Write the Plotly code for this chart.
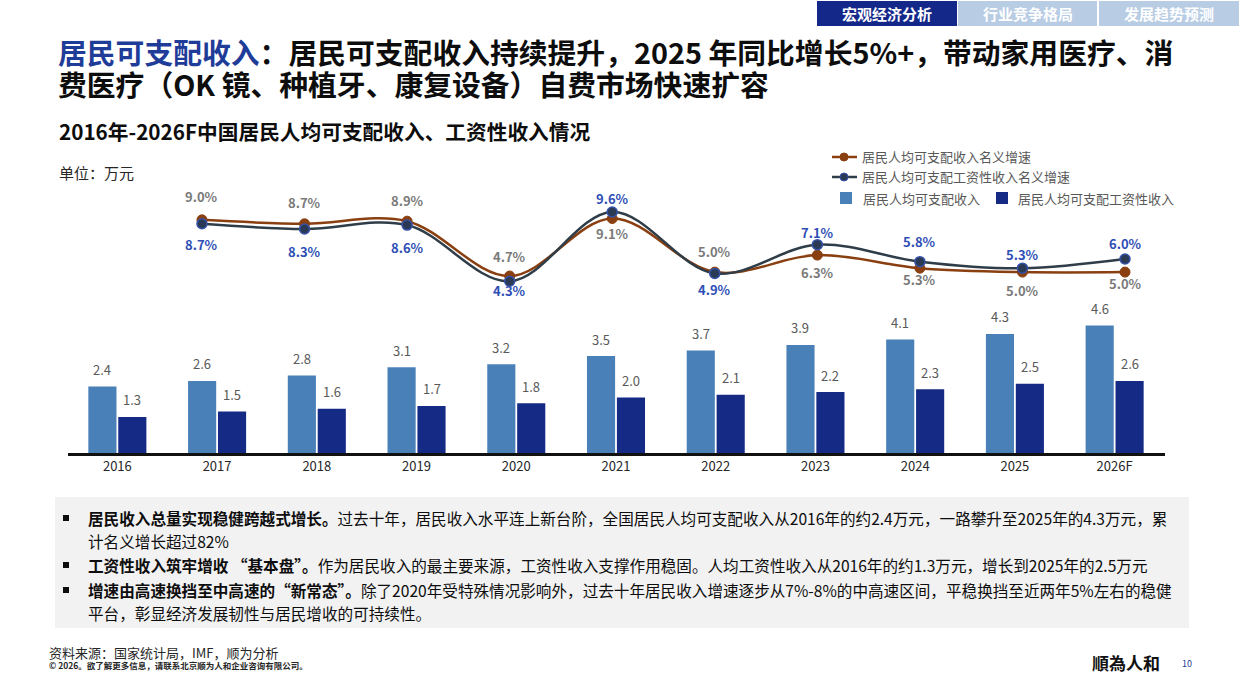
import plotly.graph_objects as go

W, H = 1240, 697

# ---------------- data ----------------
years = ["2016", "2017", "2018", "2019", "2020", "2021", "2022", "2023", "2024", "2025", "2026F"]
disposable_income = [2.4, 2.6, 2.8, 3.1, 3.2, 3.5, 3.7, 3.9, 4.1, 4.3, 4.6]
wage_income = [1.3, 1.5, 1.6, 1.7, 1.8, 2.0, 2.1, 2.2, 2.3, 2.5, 2.6]
growth_years = ["2017", "2018", "2019", "2020", "2021", "2022", "2023", "2024", "2025", "2026F"]
disposable_growth = [9.0, 8.7, 8.9, 4.7, 9.1, 5.0, 6.3, 5.3, 5.0, 5.0]
wage_growth = [8.7, 8.3, 8.6, 4.3, 9.6, 4.9, 7.1, 5.8, 5.3, 6.0]

series_names = ["居民人均可支配收入名义增速", "居民人均可支配工资性收入名义增速",
                "居民人均可支配收入", "居民人均可支配工资性收入"]

# label placement styles (pixels, positive = up)
disp_label_shift = [23, 21, 21, 20, -15, 21, -17, -11, -18, -11]
wage_label_shift = [-21, -22, -22, -9, 14, -16, 12, 20, 14, 16]

# ---------------- styles ----------------
C_LIGHT = "#4a80b8"
C_DARK = "#142a85"
C_BROWN = "#8a3f10"
C_SLATE = "#2f3d48"
C_NAVY_T = "#1f3c99"
C_LBL_BLUE = "#2e4fb5"
C_LBL_GRAY = "#7a7a7a"
FONT = "Noto Sans CJK SC"


def px(x):
    return x / W


def py(y):
    return 1 - y / H


PLOT_T, PLOT_B = 170, 453
y_domain = [py(PLOT_B), py(PLOT_T)]

fig = go.Figure()

fig.add_trace(go.Bar(x=years, y=disposable_income, name=series_names[2],
                     marker=dict(color=C_LIGHT, line=dict(width=0)),
                     xaxis="x", yaxis="y", showlegend=False, hoverinfo="skip"))
fig.add_trace(go.Bar(x=years, y=wage_income, name=series_names[3],
                     marker=dict(color=C_DARK, line=dict(width=0)),
                     xaxis="x", yaxis="y", showlegend=False, hoverinfo="skip"))

# white halos under the lines
for vals in (disposable_growth, wage_growth):
    fig.add_trace(go.Scatter(x=growth_years, y=vals, mode="lines",
                             line=dict(color="white", width=6, shape="spline", smoothing=1.0),
                             xaxis="x2", yaxis="y2", showlegend=False, hoverinfo="skip"))

fig.add_trace(go.Scatter(x=growth_years, y=disposable_growth, name=series_names[0], mode="lines+markers",
                         line=dict(color=C_BROWN, width=2.5, shape="spline", smoothing=1.0),
                         marker=dict(color=C_BROWN, size=10, line=dict(color=C_BROWN, width=1)),
                         xaxis="x2", yaxis="y2", showlegend=False, hoverinfo="skip"))
fig.add_trace(go.Scatter(x=growth_years, y=wage_growth, name=series_names[1], mode="lines+markers",
                         line=dict(color=C_SLATE, width=2.5, shape="spline", smoothing=1.0),
                         marker=dict(color="#2a3a55", size=10, line=dict(color="#3552a8", width=1.5)),
                         xaxis="x2", yaxis="y2", showlegend=False, hoverinfo="skip"))

ann = []
shapes = []

# bar value labels (x given as category serial number)
for i in range(len(years)):
    ann.append(dict(x=i, y=disposable_income[i], xref="x", yref="y", text=f"{disposable_income[i]:.1f}",
                    showarrow=False, xshift=-15, yshift=17,
                    font=dict(family=FONT, size=13, color="#595959")))
    ann.append(dict(x=i, y=wage_income[i], xref="x", yref="y", text=f"{wage_income[i]:.1f}",
                    showarrow=False, xshift=15, yshift=17,
                    font=dict(family=FONT, size=13, color="#595959")))

# line value labels
for i in range(len(growth_years)):
    ann.append(dict(x=i, y=disposable_growth[i], xref="x2", yref="y2", text=f"<b>{disposable_growth[i]:.1f}%</b>",
                    showarrow=False, yshift=disp_label_shift[i],
                    font=dict(family=FONT, size=13, color=C_LBL_GRAY)))
    ann.append(dict(x=i, y=wage_growth[i], xref="x2", yref="y2", text=f"<b>{wage_growth[i]:.1f}%</b>",
                    showarrow=False, yshift=wage_label_shift[i],
                    font=dict(family=FONT, size=13, color=C_LBL_BLUE)))

# ---------------- nav tabs ----------------
tabs = [("宏观经济分析", 817, 957, "#14288a"), ("行业竞争格局", 958, 1097, "#b8cce4"),
        ("发展趋势预测", 1099, 1239, "#b8cce4")]
for label, x0, x1, col in tabs:
    shapes.append(dict(type="rect", xref="paper", yref="paper", x0=px(x0), x1=px(x1), y0=py(26), y1=py(1),
                       fillcolor=col, line=dict(width=0), layer="below"))
    ann.append(dict(x=px((x0 + x1) / 2), y=py(13.5), xref="paper", yref="paper", text=f"<b>{label}</b>",
                    showarrow=False, xanchor="center", yanchor="middle",
                    font=dict(family=FONT, size=15, color="white")))

# ---------------- titles ----------------
ann.append(dict(x=px(56), y=py(52), xref="paper", yref="paper", xanchor="left", yanchor="middle", showarrow=False,
                text=f"<b><span style='color:{C_NAVY_T}'>居民可支配收入</span>：居民可支配收入持续提升，2025 年同比增长5%+，带动家用医疗、消</b>",
                font=dict(family=FONT, size=28.8, color="#0d0d0d")))
ann.append(dict(x=px(56), y=py(84), xref="paper", yref="paper", xanchor="left", yanchor="middle", showarrow=False,
                text="<b>费医疗（OK 镜、种植牙、康复设备）自费市场快速扩容</b>",
                font=dict(family=FONT, size=28.8, color="#0d0d0d")))
ann.append(dict(x=px(57), y=py(131), xref="paper", yref="paper", xanchor="left", yanchor="middle", showarrow=False,
                text="<b>2016年-2026F中国居民人均可支配收入、工资性收入情况</b>",
                font=dict(family=FONT, size=20.7, color="#0d0d0d")))
ann.append(dict(x=px(57), y=py(172), xref="paper", yref="paper", xanchor="left", yanchor="middle", showarrow=False,
                text="单位：万元", font=dict(family=FONT, size=15, color="#262626")))

# ---------------- legend ----------------
leg_font = dict(family=FONT, size=13, color="#595959")
for row, (col, mfill, mline) in enumerate([(C_BROWN, C_BROWN, C_BROWN), (C_SLATE, "#2a3a55", "#3552a8")]):
    yy = 157 + 20 * row
    shapes.append(dict(type="line", xref="paper", yref="paper", x0=px(832), x1=px(857), y0=py(yy), y1=py(yy),
                       line=dict(color=col, width=2.5)))
    shapes.append(dict(type="circle", xref="paper", yref="paper", x0=px(840), x1=px(848), y0=py(yy + 4), y1=py(yy - 4),
                       fillcolor=mfill, line=dict(color=mline, width=1)))
    ann.append(dict(x=px(860), y=py(yy), xref="paper", yref="paper", xanchor="left", yanchor="middle",
                    showarrow=False, text=series_names[row], font=leg_font))
for (x0, col, tx, name) in [(840, C_LIGHT, 861, series_names[2]), (996, C_DARK, 1016, series_names[3])]:
    shapes.append(dict(type="rect", xref="paper", yref="paper", x0=px(x0), x1=px(x0 + 12), y0=py(204), y1=py(192),
                       fillcolor=col, line=dict(width=0)))
    ann.append(dict(x=px(tx), y=py(198), xref="paper", yref="paper", xanchor="left", yanchor="middle",
                    showarrow=False, text=name, font=leg_font))

# ---------------- bottom text box ----------------
shapes.append(dict(type="rect", xref="paper", yref="paper", x0=px(55), x1=px(1189), y0=py(628), y1=py(497),
                   fillcolor="#f2f2f2", line=dict(width=0), layer="below"))
bullet_lines = [
    (518, True, "<b>居民收入总量实现稳健跨越式增长。</b>过去十年，居民收入水平连上新台阶，全国居民人均可支配收入从2016年的约2.4万元，一路攀升至2025年的4.3万元，累"),
    (541, False, "计名义增长超过82%"),
    (565, True, "<b>工资性收入筑牢增收 “基本盘”。</b>作为居民收入的最主要来源，工资性收入支撑作用稳固。人均工资性收入从2016年的约1.3万元，增长到2025年的2.5万元"),
    (590, True, "<b>增速由高速换挡至中高速的“新常态”。</b>除了2020年受特殊情况影响外，过去十年居民收入增速逐步从7%-8%的中高速区间，平稳换挡至近两年5%左右的稳健"),
    (613, False, "平台，彰显经济发展韧性与居民增收的可持续性。"),
]
for yy, bullet, txt in bullet_lines:
    if bullet:
        shapes.append(dict(type="rect", xref="paper", yref="paper", x0=px(63), x1=px(69), y0=py(yy + 3), y1=py(yy - 3),
                           fillcolor="#0d0d0d", line=dict(width=0)))
    ann.append(dict(x=px(86), y=py(yy), xref="paper", yref="paper", xanchor="left", yanchor="middle",
                    showarrow=False, text=txt, font=dict(family=FONT, size=15.6, color="#0d0d0d")))

# ---------------- footer ----------------
ann.append(dict(x=px(47), y=py(652), xref="paper", yref="paper", xanchor="left", yanchor="middle", showarrow=False,
                text="资料来源：国家统计局，IMF，顺为分析", font=dict(family=FONT, size=13, color="#262626")))
ann.append(dict(x=px(47), y=py(665), xref="paper", yref="paper", xanchor="left", yanchor="middle", showarrow=False,
                text="<b>© 2026。欲了解更多信息，请联系北京顺为人和企业咨询有限公司。</b>",
                font=dict(family=FONT, size=8.5, color="#262626")))
ann.append(dict(x=px(1126), y=py(662), xref="paper", yref="paper", xanchor="center", yanchor="middle", showarrow=False,
                text="<b>順為人和</b>", font=dict(family="Noto Sans CJK TC", size=17, color="#111111")))
ann.append(dict(x=px(1187), y=py(663), xref="paper", yref="paper", xanchor="center", yanchor="middle", showarrow=False,
                text="10", font=dict(family=FONT, size=9, color=C_NAVY_T)))

fig.update_layout(
    width=W, height=H,
    margin=dict(l=0, r=0, t=0, b=0),
    paper_bgcolor="white", plot_bgcolor="rgba(0,0,0,0)",
    barmode="group", bargap=0.40, bargroupgap=0.06,
    showlegend=False,
    xaxis=dict(domain=[px(67.5), px(1164.5)], type="category", categoryorder="array", categoryarray=years,
               range=[-0.5, len(years) - 0.5], autorange=False,
               anchor="y", showline=True, linecolor="#111111", linewidth=2.5, showgrid=False, zeroline=False,
               ticks="", tickfont=dict(family=FONT, size=13, color="#262626"), fixedrange=True),
    yaxis=dict(domain=y_domain, range=[0, (PLOT_B - PLOT_T) / 27.7], visible=False, anchor="x", fixedrange=True),
    xaxis2=dict(domain=[px(150.7), px(1176.3)], type="category", categoryorder="array", categoryarray=growth_years,
                range=[-0.5, len(growth_years) - 0.5], autorange=False,
                anchor="y2", visible=False, fixedrange=True),
    yaxis2=dict(domain=y_domain, range=[-(PLOT_B - 337.4) / 13.06, (337.4 - PLOT_T) / 13.06],
                anchor="x2", visible=False, fixedrange=True),
    annotations=ann,
    shapes=shapes,
)

fig.write_html("out.html")
